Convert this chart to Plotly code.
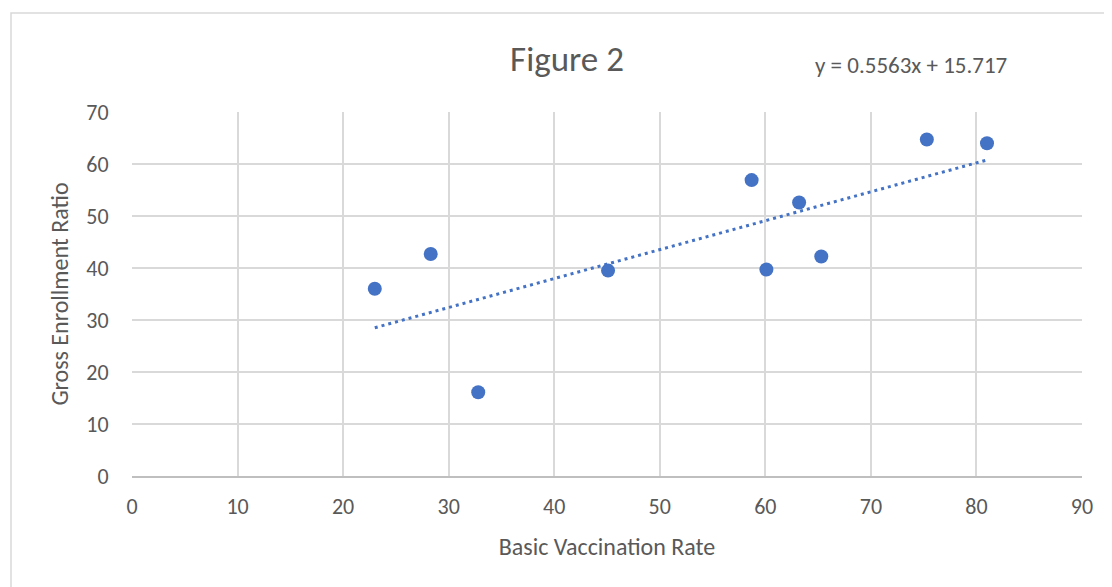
import plotly.graph_objects as go

# scatter data
vaccination_rate = [23.0, 28.3, 32.8, 45.1, 58.7, 60.1, 63.2, 65.3, 75.3, 81.0]
enrollment_ratio = [36.0, 42.7, 16.1, 39.5, 56.9, 39.7, 52.6, 42.2, 64.7, 64.0]

# linear trendline as reported on the chart
slope = 0.5563
intercept = 15.717

x_ticks = [0, 10, 20, 30, 40, 50, 60, 70, 80, 90]
y_ticks = [0, 10, 20, 30, 40, 50, 60, 70]

blue = "#4472C4"
grey_text = "#595959"
font_family = "Carlito, Calibri, Lato, sans-serif"

trend_x = [min(vaccination_rate), max(vaccination_rate)]
trend_y = [slope * v + intercept for v in trend_x]

fig = go.Figure()

fig.add_trace(go.Scatter(x=trend_x, y=trend_y, mode="lines",
                         line=dict(color=blue, width=3, dash="3px,4px"),
                         hoverinfo="skip", showlegend=False))

fig.add_trace(go.Scatter(x=vaccination_rate, y=enrollment_ratio, mode="markers",
                         marker=dict(color=blue, size=14, line=dict(width=0)),
                         showlegend=False))

# the page body adds an 8px margin, so the figure is a bit smaller
# and everything is placed 8px up/left of where it is in the reference
OFF = 8
W, H = 1112 - OFF, 587 - OFF
L, T = 132 - OFF, 112 - OFF
R = W - (1082 - OFF)
B = H - (476 - OFF)
pw = W - L - R
ph = H - T - B

def px_x(px):
    return (px - OFF - L) / pw

def px_y(py):
    return (H - B - (py - OFF)) / ph

fig.update_layout(
    width=W, height=H,
    margin=dict(l=L, r=R, t=T, b=B),
    paper_bgcolor="white", plot_bgcolor="white",
    font=dict(family=font_family, color=grey_text),
    title=dict(text="Figure 2", x=px_x(567), xref="paper", xanchor="center",
               y=1 - (59 - OFF) / H, yref="container", yanchor="middle",
               font=dict(size=35, color=grey_text, family=font_family)),
    xaxis=dict(range=[0, 90], tickvals=x_ticks, showgrid=True,
               gridcolor="#D9D9D9", gridwidth=1.5, zeroline=False,
               showline=True, linecolor="#BFBFBF", linewidth=1.5,
               ticks="outside", ticklen=10, tickcolor="rgba(0,0,0,0)",
               tickfont=dict(size=22, color=grey_text),
               title=dict(text="Basic Vaccination Rate", standoff=19,
                          font=dict(size=24, color=grey_text))),
    yaxis=dict(range=[0, 70], tickvals=y_ticks, showgrid=True,
               gridcolor="#D9D9D9", gridwidth=1.5, zeroline=False,
               ticks="outside", ticklen=18, tickcolor="rgba(0,0,0,0)",
               tickfont=dict(size=22, color=grey_text),
               title=dict(text="Gross Enrollment Ratio", standoff=10,
                          font=dict(size=24, color=grey_text))),
    annotations=[dict(text="y = 0.5563x + 15.717", x=px_x(911), y=px_y(65),
                      xref="paper", yref="paper", showarrow=False,
                      xanchor="center", yanchor="middle",
                      font=dict(size=23, color=grey_text))],
    shapes=[dict(type="rect", xref="paper", yref="paper",
                 x0=px_x(11), x1=px_x(1140), y0=px_y(620), y1=px_y(13),
                 line=dict(color="#D9D9D9", width=1.5), fillcolor="rgba(0,0,0,0)",
                 layer="below")],
)

fig.write_html("out.html")
